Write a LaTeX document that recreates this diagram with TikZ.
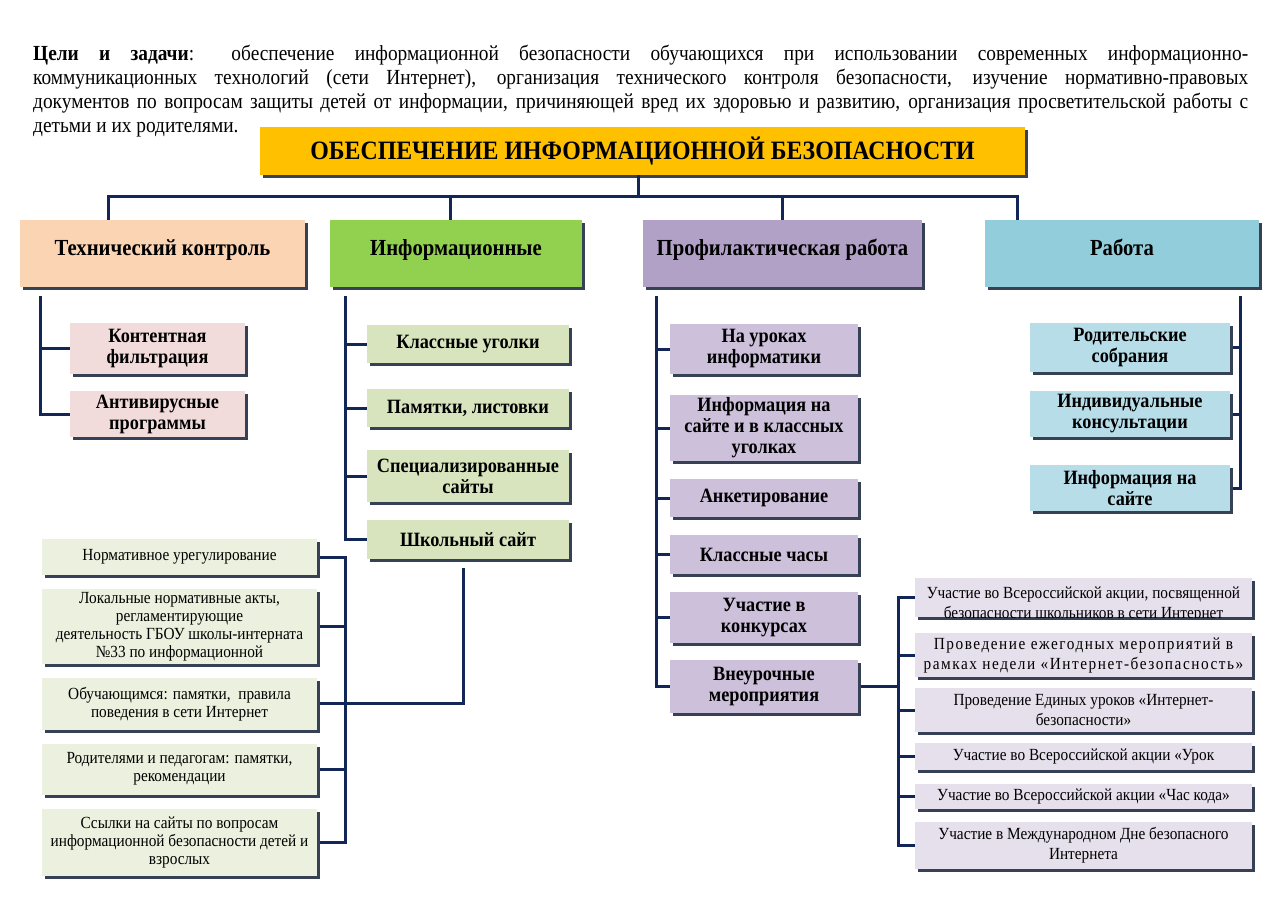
\documentclass[tikz,border=0pt]{standalone}
\usepackage{fontspec}
\setmainfont{Liberation Serif}[FakeStretch=0.9]
\usetikzlibrary{
  positioning,
  shadows
}
\definecolor{titlecolor}{RGB}{255,192,0}
\definecolor{techcolor}{RGB}{251,212,180}
\definecolor{infocolor}{RGB}{146,208,80}
\definecolor{profcolor}{RGB}{178,161,199}
\definecolor{workcolor}{RGB}{146,205,220}
\definecolor{techsub}{RGB}{242,220,219}
\definecolor{infosub}{RGB}{215,228,189}
\definecolor{profsub}{RGB}{204,192,218}
\definecolor{worksub}{RGB}{183,221,232}
\definecolor{normcolor}{RGB}{235,241,222}
\definecolor{eventcolor}{RGB}{229,224,236}
\definecolor{linecol}{RGB}{18,38,88}
\definecolor{shadowcol}{RGB}{55,65,85}
\tikzset{
  cellbox/.style={
    rectangle,
    fill=#1,
    inner sep=2pt,
    align=center,
    drop shadow={shadow xshift=3pt,shadow yshift=-3pt,fill=shadowcol,opacity=1}
  },
  headbox/.style={
    cellbox=#1,
    minimum height=67pt,
    text depth=12pt,
    font=\fontsize{23}{26}\selectfont\bfseries
  },
  subbox/.style={
    cellbox=#1,
    font=\fontsize{20.3}{21}\selectfont\bfseries
  },
  listbox/.style={
    cellbox=#1,
    font=\fontsize{17}{18}\selectfont
  },
  eventbox/.style={
    cellbox=eventcolor,
    minimum width=337pt,
    font=\fontsize{17}{20}\selectfont
  },
  branch/.style={
    line width=3pt,
    color=linecol
  }
}

\begin{document}
\begin{tikzpicture}[x=1pt, y=-1pt]
  \useasboundingbox (0,0) rectangle (1280,905);

  % Goals
  \node[anchor=north west, inner sep=0pt, text width=1215pt, align=justify,
        font=\fontsize{21.5}{24}\selectfont] (goals) at (33,45) {%
    \textbf{Цели и задачи}: обеспечение информационной безопасности обучающихся при использовании современных информационно-\linebreak
    коммуникационных технологий (сети Интернет), организация технического контроля безопасности, изучение нормативно-правовых\linebreak
    документов по вопросам защиты детей от информации, причиняющей вред их здоровью и развитию, организация просветительской работы с\linebreak
    детьми и их родителями.};

  % Title
  \node[cellbox=titlecolor, minimum width=765pt, minimum height=48pt,
        font=\fontsize{26.5}{30}\selectfont\bfseries] (title) at (642.5,151)
        {ОБЕСПЕЧЕНИЕ ИНФОРМАЦИОННОЙ БЕЗОПАСНОСТИ};

  % Headers
  \node[headbox=techcolor, minimum width=285pt] (tech) at (162.5,253.5) {Технический контроль};
  \node[headbox=infocolor, minimum width=252pt] (info) at (456,253.5) {Информационные};
  \node[headbox=profcolor, minimum width=279pt] (prof) at (782.5,253.5) {Профилактическая работа};
  \node[headbox=workcolor, minimum width=274pt] (work) at (1122,253.5) {Работа};

  % Top bus
  \coordinate (bus) at (638,196);
  \draw[branch] (title.south -| bus) -- (bus);
  \draw[branch] ([xshift=-54.5pt]tech.north) |- ([xshift=-105pt]work.north |- bus) -- ([xshift=-105pt]work.north);
  \draw[branch] ([xshift=-6pt]info.north) -- ([xshift=-6pt]info.north |- bus);
  \draw[branch] (prof.north) -- (prof.north |- bus);

  % Technical control
  \node[subbox=techsub, minimum width=175pt, minimum height=51pt] (filter) at (157.5,348.5) {Контентная\\фильтрация};
  \node[subbox=techsub, minimum width=175pt, minimum height=46pt] (antivir) at (157.5,414) {Антивирусные\\программы};

  \coordinate (techspine) at (40,296);
  \draw[branch] (techspine) |- (antivir.west);
  \draw[branch] (filter.west) -- (filter.west -| techspine);

  % Information
  \node[subbox=infosub, minimum width=202pt, minimum height=38pt] (corner) at (468,344) {Классные уголки};
  \node[subbox=infosub, minimum width=202pt, minimum height=38pt] (leaflet) at (468,408) {Памятки, листовки};
  \node[subbox=infosub, minimum width=202pt, minimum height=52pt] (sites) at (468,476) {Специализированные\\сайты};
  \node[subbox=infosub, minimum width=202pt, minimum height=39pt] (school) at (468,539.5) {Школьный сайт};

  \coordinate (infospine) at (345,296);
  \draw[branch] (infospine) |- (school.west);
  \foreach \n in {corner,leaflet,sites}
    \draw[branch] (\n.west) -- (\n.west -| infospine);

  % School site contents
  \node[listbox=normcolor, minimum width=275pt, minimum height=36pt] (norm) at (179.5,557) {Нормативное урегулирование};
  \node[listbox=normcolor, minimum width=275pt, minimum height=75pt, below=13.5pt of norm] (local)
    {Локальные нормативные акты,\\регламентирующие\\деятельность ГБОУ школы-интерната\\№33 по информационной};
  \node[listbox=normcolor, minimum width=275pt, minimum height=52pt, below=13.5pt of local] (pupils)
    {Обучающимся: памятки,~ правила\\поведения в сети Интернет};
  \node[listbox=normcolor, minimum width=275pt, minimum height=51pt, below=13.5pt of pupils] (parents)
    {Родителями и педагогам: памятки,\\рекомендации};
  \node[listbox=normcolor, minimum width=275pt, minimum height=67pt, below=13.5pt of parents] (links)
    {Ссылки на сайты по вопросам\\информационной безопасности детей и\\взрослых};

  \coordinate (normspine) at (345,0);
  \draw[branch] ([xshift=3pt]norm.east) -| (normspine |- links.east) -- ([xshift=3pt]links.east);
  \foreach \n in {local,pupils,parents}
    \draw[branch] ([xshift=3pt]\n.east) -- (normspine |- \n.east);
  \draw[branch] ([xshift=-5pt,yshift=-9pt]school.south) |- (normspine |- pupils.east);

  % Prevention
  \node[subbox=profsub, minimum width=188pt, minimum height=50pt] (lessons) at (764,349) {На уроках\\информатики};
  \node[subbox=profsub, minimum width=188pt, minimum height=66pt] (siteinfo) at (764,428) {Информация на\\сайте и в классных\\уголках};
  \node[subbox=profsub, minimum width=188pt, minimum height=38pt] (survey) at (764,498) {Анкетирование};
  \node[subbox=profsub, minimum width=188pt, minimum height=39pt] (hours) at (764,554.5) {Классные часы};
  \node[subbox=profsub, minimum width=188pt, minimum height=51pt] (contest) at (764,617.5) {Участие в\\конкурсах};
  \node[subbox=profsub, minimum width=188pt, minimum height=53pt] (extra) at (764,686.5) {Внеурочные\\мероприятия};

  \coordinate (profspine) at (656,296);
  \draw[branch] (profspine) |- (extra.west);
  \foreach \n in {lessons,siteinfo,survey,hours,contest}
    \draw[branch] (\n.west) -- (\n.west -| profspine);

  % Extracurricular events
  \node[eventbox, minimum height=39pt] (action) at (1083.5,597.5) {};
  \begin{scope}
    \clip (action.south west) rectangle (action.north east);
    \node[anchor=north, inner sep=0pt, align=center, font=\fontsize{17}{20}\selectfont] (actiontext)
      at ([yshift=-9pt]action.north) {Участие во Всероссийской акции, посвященной\\безопасности школьников в сети Интернет};
  \end{scope}
  \node[eventbox, minimum height=44pt] (week) at (1083.5,655)
    {\addfontfeature{LetterSpace=9}Проведение ежегодных мероприятий в\\\addfontfeature{LetterSpace=9}рамках недели «Интернет-безопасность»};
  \node[eventbox, minimum height=44pt] (united) at (1083.5,710) {Проведение Единых уроков «Интернет-\\безопасности»};
  \node[eventbox, minimum height=27pt] (digit) at (1083.5,756.5) {Участие во Всероссийской акции «Урок};
  \node[eventbox, minimum height=25pt] (code) at (1083.5,796.5) {Участие во Всероссийской акции «Час кода»};
  \node[eventbox, minimum height=47pt] (safeday) at (1083.5,845.5) {Участие в Международном Дне безопасного\\Интернета};

  \coordinate (eventspine) at (898,0);
  \draw[branch] ([xshift=3pt]extra.east) -- (eventspine |- extra.east);
  \draw[branch] (action.west) -| (eventspine |- safeday.west) -- (safeday.west);
  \foreach \n in {week,united,digit,code}
    \draw[branch] (\n.west) -- (eventspine |- \n.west);

  % Work with parents
  \node[subbox=worksub, minimum width=200pt, minimum height=49pt] (meeting) at (1130,347.5) {Родительские\\собрания};
  \node[subbox=worksub, minimum width=200pt, minimum height=46pt] (consult) at (1130,414) {Индивидуальные\\консультации};
  \node[subbox=worksub, minimum width=200pt, minimum height=46pt] (webinfo) at (1130,488) {Информация на\\сайте};

  \coordinate (workspine) at (1240,296);
  \draw[branch] (workspine) |- ([xshift=3pt]webinfo.east);
  \foreach \n in {meeting,consult}
    \draw[branch] ([xshift=3pt]\n.east) -- (workspine |- \n.east);

\end{tikzpicture}
\end{document}
